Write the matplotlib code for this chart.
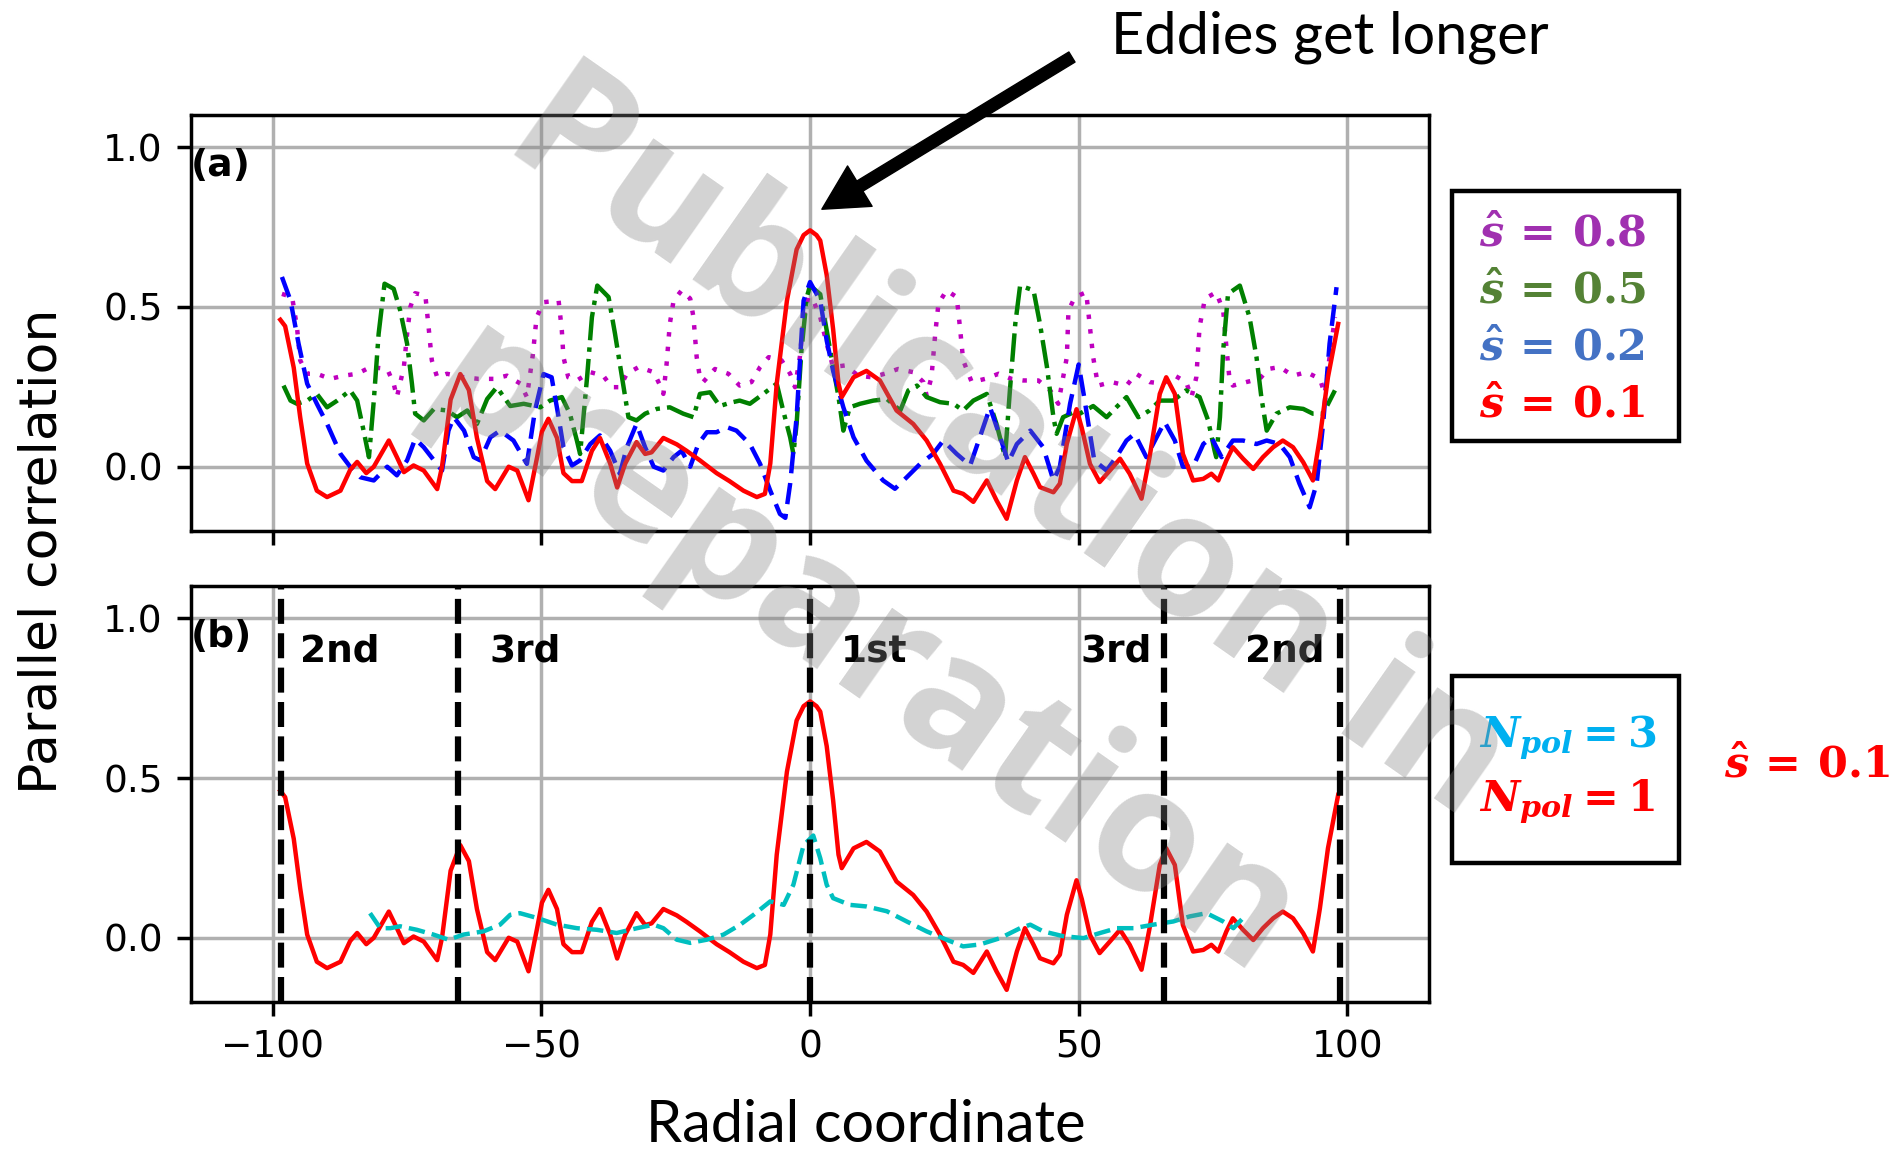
import matplotlib
matplotlib.use("Agg")
import matplotlib.pyplot as plt
from matplotlib.patches import Rectangle

# ---- data ----
x_red = [-98.6, -97.7, -96.1, -94.9, -93.6, -91.8, -89.9, -87.4, -85.6, -84.3,
         -82.6, -81.2, -78.4, -76.9, -75.6, -73.8, -71.9, -69.4, -68.5, -66.9,
         -65.1, -63.5, -62.0, -60.1, -58.6, -56.1, -54.5, -52.4, -50.8, -49.9,
         -48.7, -47.1, -45.9, -44.3, -42.5, -40.6, -39.1, -37.2, -35.9, -34.4,
         -32.3, -30.7, -29.5, -27.3, -24.8, -23.0, -20.5, -17.4, -15.0, -12.4,
         -9.9, -8.4, -7.4, -6.2, -4.3, -2.5, -1.2, 0.0, 1.2, 1.9,
         3.1, 4.3, 5.3, 5.9, 8.1, 10.5, 13.0, 16.1, 19.2, 21.7,
         24.2, 26.7, 28.5, 30.4, 32.9, 34.7, 36.6, 38.5, 40.0, 41.6,
         42.8, 45.3, 46.5, 47.8, 49.6, 50.6, 52.1, 53.9, 55.8, 57.7,
         59.5, 61.7, 63.2, 65.1, 66.3, 67.9, 69.4, 71.3, 73.2, 74.7,
         76.0, 77.5, 78.7, 80.6, 82.5, 84.3, 86.2, 88.0, 89.9, 91.8,
         93.6, 94.9, 96.4, 98.3]
y_red = [0.46, 0.44, 0.31, 0.155, 0.01, -0.075, -0.095, -0.075, -0.01, 0.015,
         -0.02, 0.0, 0.082, 0.03, -0.017, 0.004, -0.012, -0.07, 0.0, 0.21,
         0.29, 0.24, 0.09, -0.045, -0.07, 0.0, -0.012, -0.105, 0.03, 0.11,
         0.15, 0.09, -0.02, -0.045, -0.045, 0.05, 0.09, 0.01, -0.065, 0.01,
         0.077, 0.04, 0.045, 0.09, 0.07, 0.05, 0.02, -0.02, -0.045, -0.075,
         -0.095, -0.085, 0.01, 0.26, 0.52, 0.68, 0.725, 0.74, 0.725, 0.708,
         0.60, 0.43, 0.26, 0.218, 0.28, 0.30, 0.27, 0.176, 0.134, 0.082,
         0.009, -0.075, -0.085, -0.11, -0.043, -0.105, -0.163, -0.043, 0.03, -0.022,
         -0.064, -0.08, -0.053, 0.072, 0.18, 0.12, 0.009, -0.048, -0.012, 0.025,
         -0.022, -0.10, 0.03, 0.228, 0.28, 0.228, 0.04, -0.043, -0.038, -0.022,
         -0.043, 0.02, 0.061, 0.025, -0.007, 0.03, 0.061, 0.082, 0.061, 0.014,
         -0.043, 0.092, 0.28, 0.447]

x_blue = [-98.3, -96.7, -95.2, -93.6, -91.8, -89.9, -87.4, -85.6, -83.7, -81.2,
          -78.7, -76.9, -75.0, -73.5, -71.9, -70.0, -68.5, -67.3, -66.3, -64.4,
          -62.6, -61.4, -59.5, -57.7, -55.2, -52.7, -51.2, -49.6, -48.1, -46.8,
          -45.9, -44.3, -42.8, -40.9, -39.1, -37.2, -35.4, -34.1, -32.3, -30.7,
          -29.1, -27.3, -25.4, -23.9, -22.3, -20.8, -19.2, -17.4, -15.5, -13.7,
          -11.2, -9.3, -7.4, -5.6, -4.6, -3.7, -2.5, -1.2, 0.0, 1.9,
          3.1, 4.3, 6.2, 8.1, 10.5, 13.6, 15.8, 18.0, 20.5, 22.9,
          24.8, 27.3, 29.8, 31.6, 33.5, 35.4, 36.9, 38.5, 41.0, 43.4,
          45.3, 46.5, 48.4, 50.0, 51.0, 52.9, 55.2, 57.0, 58.9, 60.4,
          62.6, 64.5, 66.0, 67.9, 69.4, 71.3, 73.2, 74.7, 76.6, 78.7,
          80.6, 83.1, 85.0, 87.4, 89.3, 91.1, 93.0, 94.3, 95.5, 96.7,
          98.0]
y_blue = [0.594, 0.52, 0.385, 0.26, 0.197, 0.134, 0.04, 0.0, -0.033, -0.043,
          0.0, -0.027, 0.02, 0.087, 0.061, 0.02, -0.012, 0.113, 0.155, 0.113,
          0.03, 0.02, 0.092, 0.113, 0.082, 0.009, 0.176, 0.29, 0.28, 0.155,
          0.061, 0.004, 0.02, 0.071, 0.098, 0.05, -0.022, 0.061, 0.134, 0.061,
          0.0, -0.012, 0.03, 0.05, 0.0, 0.071, 0.108, 0.108, 0.124, 0.113,
          0.071, 0.009, -0.075, -0.148, -0.16, -0.053, 0.155, 0.52, 0.578, 0.52,
          0.395, 0.30, 0.186, 0.092, 0.019, -0.043, -0.069, -0.033, 0.009, 0.04,
          0.082, 0.04, 0.004, 0.092, 0.186, 0.092, 0.014, 0.071, 0.113, 0.061,
          -0.043, 0.0, 0.197, 0.32, 0.22, 0.02, -0.012, 0.03, 0.082, 0.103,
          0.03, 0.092, 0.14, 0.082, 0.0, 0.0, 0.071, 0.092, 0.03, 0.082,
          0.082, 0.071, 0.082, 0.071, 0.03, -0.053, -0.127, -0.053, 0.134, 0.385,
          0.562]

x_green = [-98.0, -96.7, -95.5, -93.6, -91.8, -89.9, -88.0, -85.6, -84.3, -83.1,
           -82.1, -81.2, -80.3, -79.2, -77.5, -76.3, -75.0, -74.1, -73.5, -71.9,
           -70.0, -67.6, -65.7, -63.8, -62.0, -60.1, -58.3, -55.8, -53.3, -50.2,
           -48.4, -46.2, -44.7, -43.4, -42.8, -41.5, -40.6, -39.6, -37.5, -36.3,
           -35.0, -33.8, -32.3, -30.7, -28.5, -26.1, -23.6, -21.7, -20.5, -18.6,
           -16.8, -14.9, -13.1, -11.2, -8.7, -6.2, -5.0, -3.7, -3.1, -2.5,
           -1.6, -0.6, 0.0, 1.9, 3.1, 4.3, 5.3, 6.2, 7.4, 9.3,
           11.8, 14.3, 16.8, 18.3, 19.9, 21.7, 24.2, 26.7, 28.5, 30.4,
           32.9, 34.7, 36.3, 37.2, 38.2, 39.1, 41.6, 42.8, 44.1, 45.3,
           45.9, 47.1, 49.0, 50.2, 52.7, 55.2, 57.0, 58.9, 61.1, 63.2,
           65.1, 67.6, 70.0, 72.5, 74.1, 75.3, 75.6, 76.3, 76.9, 77.8,
           80.0, 81.8, 83.1, 84.0, 85.0, 86.8, 89.3, 91.8, 93.6, 95.5,
           97.7]
y_green = [0.254, 0.207, 0.197, 0.207, 0.228, 0.186, 0.207, 0.239, 0.207, 0.113,
           0.03, 0.207, 0.416, 0.573, 0.557, 0.49, 0.385, 0.26, 0.166, 0.145,
           0.181, 0.176, 0.155, 0.176, 0.134, 0.212, 0.249, 0.19, 0.197, 0.186,
           0.207, 0.218, 0.166, 0.082, 0.04, 0.28, 0.468, 0.567, 0.531, 0.416,
           0.28, 0.155, 0.145, 0.166, 0.181, 0.186, 0.166, 0.155, 0.228, 0.233,
           0.19, 0.20, 0.207, 0.197, 0.228, 0.26, 0.176, 0.092, 0.04, 0.134,
           0.364, 0.531, 0.567, 0.54, 0.427, 0.312, 0.218, 0.113, 0.186, 0.197,
           0.207, 0.212, 0.176, 0.239, 0.254, 0.218, 0.202, 0.197, 0.176, 0.207,
           0.228, 0.134, 0.03, 0.239, 0.447, 0.567, 0.552, 0.447, 0.312, 0.155,
           0.103, 0.155, 0.17, 0.166, 0.19, 0.155, 0.186, 0.218, 0.155, 0.176,
           0.207, 0.207, 0.239, 0.218, 0.145, 0.05, 0.03, 0.155, 0.364, 0.541,
           0.567, 0.468, 0.343, 0.218, 0.113, 0.166, 0.186, 0.181, 0.166, 0.166,
           0.239]

x_mag = [-98.3, -96.4, -95.5, -94.9, -93.6, -91.8, -89.3, -86.8, -84.3, -81.8,
         -78.7, -77.5, -76.9, -75.6, -75.0, -74.4, -73.5, -71.6, -71.0, -70.4,
         -69.4, -67.6, -64.4, -61.7, -58.9, -56.4, -53.9, -52.7, -51.6, -50.9,
         -49.6, -46.8, -46.2, -45.9, -45.0, -43.4, -40.9, -38.5, -36.9, -35.4,
         -34.1, -31.9, -29.1, -27.9, -27.3, -26.7, -26.1, -25.4, -23.9, -22.3,
         -21.7, -21.1, -20.5, -19.9, -17.7, -15.2, -13.1, -10.9, -9.3, -7.7,
         -5.3, -3.7, -2.8, -1.9, -1.2, -0.3, 0.6, 1.9, 3.1, 4.3,
         6.5, 9.0, 11.5, 13.9, 16.4, 19.2, 21.1, 21.7, 22.6, 23.3,
         23.9, 25.4, 27.3, 27.9, 28.5, 30.1, 32.6, 35.1, 37.5, 39.7,
         42.5, 44.7, 46.2, 47.8, 48.1, 49.3, 51.4, 52.1, 52.7, 53.6,
         56.1, 58.9, 60.7, 63.2, 65.7, 67.9, 70.0, 71.0, 71.9, 72.5,
         73.5, 75.6, 76.9, 77.5, 78.1, 78.7, 81.2, 83.7, 85.3, 87.4,
         89.9, 92.4, 94.9, 95.8, 96.7, 97.7]
y_mag = [0.541, 0.531, 0.437, 0.333, 0.291, 0.291, 0.275, 0.285, 0.291, 0.312,
         0.306, 0.26, 0.218, 0.312, 0.416, 0.50, 0.543, 0.536, 0.437, 0.333,
         0.28, 0.291, 0.28, 0.275, 0.275, 0.285, 0.26, 0.218, 0.35, 0.468,
         0.515, 0.52, 0.427, 0.343, 0.28, 0.27, 0.296, 0.285, 0.249, 0.249,
         0.291, 0.312, 0.296, 0.254, 0.228, 0.322, 0.447, 0.52, 0.552, 0.526,
         0.468, 0.343, 0.28, 0.265, 0.306, 0.291, 0.254, 0.265, 0.312, 0.343,
         0.333, 0.291, 0.249, 0.343, 0.468, 0.531, 0.52, 0.468, 0.385, 0.312,
         0.317, 0.285, 0.28, 0.291, 0.306, 0.296, 0.265, 0.223, 0.28, 0.416,
         0.51, 0.552, 0.531, 0.437, 0.333, 0.265, 0.275, 0.291, 0.275, 0.27,
         0.27, 0.239, 0.197, 0.343, 0.489, 0.531, 0.546, 0.437, 0.343, 0.254,
         0.265, 0.254, 0.291, 0.265, 0.26, 0.285, 0.265, 0.218, 0.28, 0.437,
         0.526, 0.546, 0.489, 0.374, 0.27, 0.254, 0.265, 0.275, 0.306, 0.312,
         0.285, 0.296, 0.275, 0.228, 0.343, 0.468]

x_cyan = [-81.9, -80.0, -78.1, -76.3, -73.2, -70.1, -67.3, -64.5, -60.8, -57.7,
          -55.8, -54.0, -50.8, -47.1, -43.4, -39.7, -36.0, -32.2, -29.1, -27.3,
          -24.8, -22.3, -19.2, -16.1, -13.0, -10.5, -7.4, -4.9, -3.1, -1.2,
          0.6, 1.9, 3.1, 4.3, 7.4, 10.5, 14.3, 18.0, 21.7, 25.4,
          28.5, 31.6, 35.4, 39.1, 41.0, 43.4, 47.1, 50.9, 54.0, 57.1,
          60.2, 63.9, 67.6, 70.7, 73.8, 76.9, 78.8, 80.6]
y_cyan = [0.077, 0.03, 0.03, 0.036, 0.025, 0.01, -0.006, 0.01, 0.02, 0.041,
          0.072, 0.077, 0.062, 0.041, 0.03, 0.025, 0.015, 0.03, 0.041, 0.03,
          -0.006, -0.016, -0.006, 0.01, 0.041, 0.072, 0.114, 0.103, 0.166, 0.29,
          0.32, 0.249, 0.166, 0.124, 0.103, 0.098, 0.083, 0.051, 0.02, -0.006,
          -0.027, -0.021, -0.001, 0.03, 0.041, 0.02, 0.005, -0.001, 0.015, 0.03,
          0.03, 0.041, 0.051, 0.067, 0.077, 0.051, 0.03, 0.062]

region_x = [-98.5, -65.5, 0.0, 65.9, 98.6]
region_names = ["2nd", "3rd", "1st", "3rd", "2nd"]
region_text_x = [-94.9, -59.7, 5.7, 50.4, 81.0]

legend_a = [r"$\hat{s}\,=\,0.8$", r"$\hat{s}\,=\,0.5$", r"$\hat{s}\,=\,0.2$", r"$\hat{s}\,=\,0.1$"]
legend_a_colors = ["#A030B0", "#548235", "#4472C4", "#FF0000"]
legend_b = [r"$N_{pol}=3$", r"$N_{pol}=1$"]
legend_b_colors = ["#00B0F0", "#FF0000"]

# ---- style ----
plt.rcParams["font.family"] = "DejaVu Sans"
plt.rcParams["mathtext.fontset"] = "custom"
plt.rcParams["mathtext.rm"] = "DejaVu Serif:bold"
plt.rcParams["mathtext.it"] = "DejaVu Serif:italic:bold"
plt.rcParams["mathtext.bf"] = "DejaVu Serif:bold"

fig = plt.figure(figsize=(19.04, 11.52), dpi=100)
ax_a = fig.add_axes([0.1001, 0.5394, 0.6504, 0.3605])
ax_b = fig.add_axes([0.1001, 0.1305, 0.6504, 0.3605])

LW = 3.2
ax_a.plot(x_mag, y_mag, color="m", lw=LW, ls=(0, (1, 2.3)))
ax_a.plot(x_green, y_green, color="g", lw=LW, ls="-.", solid_joinstyle="round")
ax_a.plot(x_blue, y_blue, color="b", lw=LW, ls=(0, (4.8, 2.2)))
ax_a.plot(x_red, y_red, color="r", lw=LW, solid_joinstyle="round")

ax_b.plot(x_red, y_red, color="r", lw=LW, solid_joinstyle="round")
ax_b.plot(x_cyan, y_cyan, color="c", lw=LW, ls="--")
for xv in region_x:
    ax_b.axvline(xv, color="k", lw=4.5, ls=(0, (4.0, 1.5)))
for name, xt in zip(region_names, region_text_x):
    ax_b.text(xt, 0.895, name, fontsize=27, fontweight="bold", ha="left", va="center")

for ax, lab in [(ax_a, "(a)"), (ax_b, "(b)")]:
    ax.set_xlim(-115.3, 115.2)
    ax.set_ylim(-0.2, 1.1)
    ax.set_xticks([-100, -50, 0, 50, 100])
    ax.set_yticks([0.0, 0.5, 1.0])
    ax.grid(True, color="#b0b0b0", lw=2.5)
    ax.set_axisbelow(True)
    ax.tick_params(labelsize=27, length=10, width=2.5, pad=10)
    for sp in ax.spines.values():
        sp.set_linewidth(2.5)
    ax.text(-115.3, 0.94, lab, fontsize=27, fontweight="bold", ha="left", va="center")
ax_a.tick_params(labelbottom=False)

fig.text(0.0223, 0.521, "Parallel correlation", rotation=90, fontsize=37.5,
         ha="center", va="center")
fig.text(0.4548, 0.023, "Radial coordinate", fontsize=41.5, family="Lato",
         ha="center", va="center")
fig.text(0.6986, 0.968, "Eddies get longer", fontsize=41.5, family="Lato",
         ha="center", va="center")

ax_a.annotate("", xy=(2.2, 0.806), xycoords="data",
              xytext=(0.563, 0.9505), textcoords="figure fraction",
              arrowprops=dict(facecolor="black", edgecolor="black", width=8.5,
                              headwidth=34, headlength=32, shrink=0),
              annotation_clip=False)

# legend boxes
fig.add_artist(Rectangle((0.7626, 0.6174), 0.1192, 0.2171, transform=fig.transFigure,
                         fill=False, ec="black", lw=3.2))
fig.add_artist(Rectangle((0.7626, 0.2507), 0.1192, 0.1623, transform=fig.transFigure,
                         fill=False, ec="black", lw=3.2))
for i, (t, c) in enumerate(zip(legend_a, legend_a_colors)):
    fig.text(0.7768, 0.7860 - i * 0.0495, t, color=c, fontsize=31, ha="left", va="baseline")
for i, (t, c) in enumerate(zip(legend_b, legend_b_colors)):
    fig.text(0.7768, 0.3515 - i * 0.0556, t, color=c, fontsize=31, ha="left", va="baseline")
fig.text(0.9055, 0.3255, r"$\hat{s}\,=\,0.1$", color="#FF0000", fontsize=31,
         ha="left", va="baseline")

# watermark
fig.text(0.491, 0.522, "Publication in\npreparation", rotation=-35, fontsize=123,
         family="Open Sans", fontweight="bold", color="gray", alpha=0.35,
         ha="center", va="center", linespacing=1.65, multialignment="center",
         zorder=10)

fig.savefig("out.png", dpi=100)
